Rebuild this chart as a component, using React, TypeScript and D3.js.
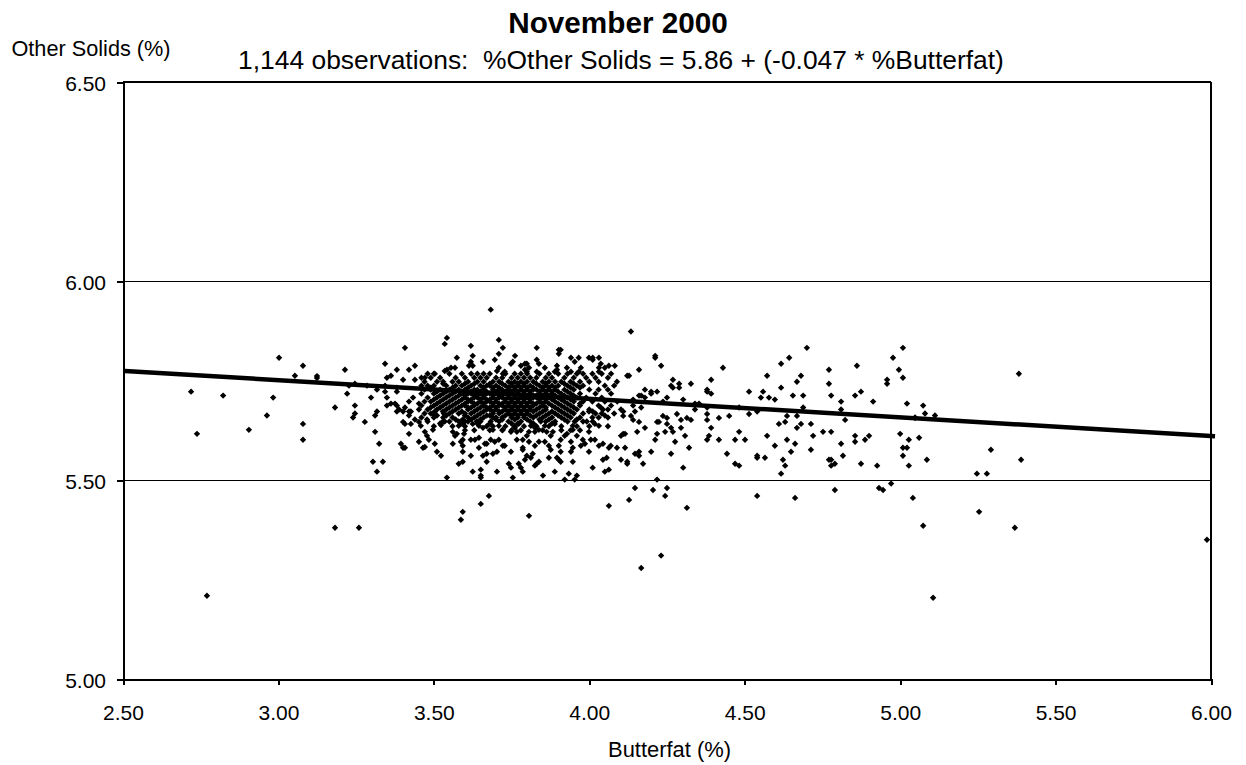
import React, { useEffect, useRef } from "react";
import * as d3 from "d3";

type Pt = [number, number];

const xTicks = [2.5, 3, 3.5, 4, 4.5, 5, 5.5, 6];
const yTicks = [5, 5.5, 6, 6.5];
const gridValues = [5.5, 6, 6.5];
const title = "November 2000";
const subtitle = "1,144 observations:  %Other Solids = 5.86 + (-0.047 * %Butterfat)";

// trend line as drawn (it runs slightly past the right axis)
const trendLine: Pt[] = [
  [2.506, 5.774],
  [6.013, 5.61],
];

const leftPoints: Pt[] = [
  [2.719, 5.722], [2.738, 5.616], [2.77, 5.209], [2.822, 5.712], [2.905, 5.626], [2.963, 5.662],
  [2.983, 5.707], [3.002, 5.807], [3.053, 5.762], [3.079, 5.787], [3.079, 5.641], [3.079, 5.601],
  [3.124, 5.761], [3.124, 5.756], [3.182, 5.682], [3.182, 5.38], [3.259, 5.38], [3.214, 5.777],
  [3.221, 5.717], [3.227, 5.737], [3.246, 5.742], [3.246, 5.687], [3.246, 5.667], [3.24, 5.657],
  [3.278, 5.646], [3.285, 5.737], [3.298, 5.707], [3.304, 5.546], [3.317, 5.521], [3.336, 5.546],
  [3.311, 5.621], [3.324, 5.591], [3.311, 5.662], [3.317, 5.672], [3.317, 5.727], [3.343, 5.792],
  [3.349, 5.757], [3.362, 5.762], [3.343, 5.737], [3.343, 5.722], [3.349, 5.707], [3.349, 5.687],
  [3.362, 5.692], [3.375, 5.692], [3.381, 5.687], [3.381, 5.672], [3.388, 5.677], [3.381, 5.777],
  [3.381, 5.722], [3.381, 5.732], [3.401, 5.752], [3.407, 5.832], [3.42, 5.777], [3.439, 5.787],
  [3.439, 5.752], [3.42, 5.697], [3.433, 5.707], [3.407, 5.682], [3.401, 5.672], [3.42, 5.672],
  [3.426, 5.672], [3.42, 5.662], [3.401, 5.646], [3.407, 5.641], [3.426, 5.641], [3.439, 5.652],
  [3.452, 5.646], [3.452, 5.692], [3.452, 5.677], [3.42, 5.616], [3.394, 5.591], [3.401, 5.581],
  [3.407, 5.581], [3.452, 5.596],
];

const upperEdge: Pt[] = [
  [3.683, 5.928], [3.542, 5.857], [3.535, 5.842], [3.619, 5.837], [3.709, 5.852], [3.722, 5.832],
  [3.709, 5.817], [3.696, 5.802], [3.625, 5.812], [3.574, 5.807], [3.658, 5.797], [3.619, 5.797],
  [3.613, 5.787], [3.625, 5.787], [3.831, 5.832], [3.902, 5.827], [3.908, 5.827], [3.902, 5.817],
  [3.761, 5.812], [3.754, 5.797], [3.748, 5.792], [3.831, 5.802], [3.838, 5.792], [3.941, 5.807],
  [3.966, 5.807], [3.953, 5.797], [3.999, 5.807], [4.011, 5.807], [4.011, 5.802], [4.031, 5.807],
  [4.037, 5.792], [4.031, 5.782], [4.031, 5.772], [4.063, 5.787], [4.082, 5.787], [4.05, 5.782],
  [3.857, 5.782], [3.928, 5.782], [3.941, 5.772], [3.896, 5.787], [3.889, 5.772], [3.896, 5.777],
  [3.973, 5.782], [3.966, 5.772], [3.793, 5.792], [3.78, 5.787], [3.799, 5.792], [3.806, 5.782],
  [3.793, 5.777], [3.799, 5.772], [3.568, 5.782], [3.555, 5.782], [3.542, 5.777], [3.535, 5.774],
  [3.503, 5.767], [3.709, 5.782], [3.703, 5.774], [3.831, 5.772], [3.728, 5.772], [3.722, 5.767],
  [4.089, 5.747], [3.471, 5.757],
];

const lowerEdge: Pt[] = [
  [3.542, 5.506], [3.625, 5.521], [3.651, 5.526], [3.651, 5.511], [3.651, 5.506], [3.703, 5.521],
  [3.754, 5.506], [3.851, 5.511], [3.889, 5.521], [3.921, 5.501], [3.934, 5.516], [3.953, 5.501],
  [3.96, 5.511], [4.011, 5.531], [4.05, 5.521], [4.063, 5.526], [3.677, 5.46], [3.651, 5.44],
  [3.593, 5.42], [3.587, 5.4], [3.806, 5.41], [4.063, 5.435], [3.58, 5.541], [3.593, 5.546],
  [3.523, 5.561], [3.51, 5.571], [3.619, 5.561], [3.67, 5.546], [3.658, 5.561], [3.67, 5.566],
  [3.645, 5.581], [3.593, 5.571], [3.561, 5.591], [3.503, 5.591], [3.471, 5.583], [3.465, 5.581],
  [3.741, 5.541], [3.748, 5.531], [3.773, 5.541], [3.78, 5.531], [3.786, 5.521], [3.825, 5.536],
  [3.831, 5.541], [3.838, 5.546], [3.793, 5.551], [3.799, 5.561], [3.812, 5.556], [3.818, 5.566],
  [3.748, 5.571], [3.786, 5.581], [3.786, 5.576], [3.87, 5.556], [3.896, 5.556], [3.902, 5.551],
  [3.908, 5.546], [3.947, 5.546], [4.044, 5.551], [4.056, 5.556], [3.908, 5.571], [3.941, 5.571],
  [3.947, 5.581], [3.876, 5.576], [3.825, 5.586], [3.838, 5.596], [3.767, 5.601], [3.786, 5.601],
  [3.806, 5.596], [3.857, 5.596], [3.87, 5.586], [3.908, 5.601], [3.902, 5.586], [3.941, 5.596],
  [3.96, 5.611], [3.979, 5.601], [3.973, 5.586], [3.986, 5.591], [3.999, 5.571], [3.999, 5.621],
  [4.005, 5.601], [4.018, 5.601], [4.031, 5.586], [4.044, 5.591], [4.063, 5.581], [4.069, 5.586],
  [4.089, 5.581], [3.69, 5.566], [3.703, 5.571], [3.722, 5.586], [3.728, 5.586], [3.696, 5.596],
  [3.683, 5.601], [3.67, 5.591], [3.664, 5.591], [3.709, 5.601], [3.619, 5.601], [3.632, 5.601],
  [3.645, 5.606], [3.593, 5.601], [3.587, 5.596], [3.593, 5.586], [3.561, 5.621], [3.568, 5.611],
  [3.574, 5.616], [3.597, 5.616], [3.471, 5.621], [3.478, 5.611], [3.484, 5.601], [3.497, 5.626],
  [3.478, 5.652], [3.523, 5.638], [3.529, 5.647], [3.535, 5.647], [3.497, 5.667], [3.503, 5.672],
  [3.532, 5.667], [3.529, 5.672], [3.58, 5.636], [3.587, 5.647], [3.593, 5.652], [3.6, 5.647],
  [3.58, 5.647], [3.625, 5.641], [3.645, 5.636], [3.658, 5.631], [3.638, 5.647], [3.683, 5.647],
  [3.69, 5.657], [3.709, 5.636], [3.722, 5.626], [3.69, 5.626], [3.748, 5.621], [3.761, 5.631],
  [3.773, 5.641], [3.767, 5.621], [3.806, 5.621], [3.799, 5.611], [3.812, 5.636], [3.825, 5.631],
  [3.825, 5.621], [3.838, 5.626], [3.863, 5.621], [3.883, 5.621], [3.876, 5.611], [3.857, 5.636],
  [3.844, 5.647], [3.889, 5.641], [3.921, 5.611], [3.928, 5.616], [3.947, 5.636], [3.953, 5.647],
  [3.947, 5.626], [3.992, 5.647], [4.018, 5.641], [4.031, 5.636], [4.011, 5.647], [4.05, 5.662],
  [4.044, 5.677], [4.011, 5.672], [4.037, 5.682], [3.999, 5.672], [3.458, 5.636],
];

// dense core, too overlapped to separate: estimated row by row
const coreY = [
  5.767, 5.757, 5.747, 5.737, 5.727, 5.717, 5.707, 5.697, 5.687, 5.677, 5.667, 5.657, 5.647, 5.635, 5.625,
  5.742, 5.732, 5.722, 5.712, 5.702, 5.692, 5.682, 5.672, 5.662, 5.652, 5.642,
];
const coreX = [
  [3.48, 3.5, 3.55, 3.59, 3.62, 3.64, 3.66, 3.68, 3.73, 3.76, 3.78, 3.8, 3.84, 3.87, 3.9, 3.93, 3.96, 3.98, 4.01, 4.04, 4.07],
  [3.46, 3.49, 3.52, 3.57, 3.6, 3.63, 3.65, 3.67, 3.7, 3.72, 3.75, 3.77, 3.79, 3.81, 3.83, 3.86, 3.88, 3.92, 3.95, 3.99, 4.02, 4.06],
  [3.47, 3.51, 3.53, 3.56, 3.58, 3.61, 3.64, 3.66, 3.69, 3.71, 3.74, 3.76, 3.78, 3.8, 3.82, 3.85, 3.87, 3.89, 3.91, 3.94, 3.97, 4.0, 4.03],
  [3.46, 3.48, 3.5, 3.54, 3.57, 3.59, 3.62, 3.65, 3.67, 3.68, 3.7, 3.73, 3.75, 3.77, 3.79, 3.81, 3.84, 3.86, 3.88, 3.9, 3.93, 3.96, 3.98, 4.05, 4.08],
  [3.47, 3.49, 3.52, 3.55, 3.58, 3.6, 3.63, 3.64, 3.66, 3.69, 3.71, 3.72, 3.74, 3.76, 3.78, 3.8, 3.82, 3.83, 3.85, 3.87, 3.89, 3.92, 3.95, 4.0, 4.03, 4.06],
  [3.46, 3.5, 3.53, 3.56, 3.59, 3.61, 3.62, 3.65, 3.67, 3.68, 3.7, 3.73, 3.75, 3.77, 3.79, 3.81, 3.84, 3.86, 3.88, 3.91, 3.94, 3.97, 4.02, 4.07],
  [3.48, 3.51, 3.54, 3.57, 3.6, 3.63, 3.64, 3.66, 3.69, 3.71, 3.72, 3.74, 3.76, 3.78, 3.8, 3.82, 3.83, 3.85, 3.87, 3.9, 3.93, 3.96, 3.99, 4.04],
  [3.47, 3.49, 3.52, 3.55, 3.58, 3.61, 3.62, 3.65, 3.67, 3.68, 3.7, 3.73, 3.75, 3.77, 3.79, 3.81, 3.84, 3.86, 3.89, 3.92, 3.95, 3.98, 4.01, 4.05, 4.09],
  [3.46, 3.5, 3.53, 3.56, 3.59, 3.6, 3.63, 3.66, 3.69, 3.71, 3.72, 3.74, 3.76, 3.78, 3.8, 3.82, 3.85, 3.88, 3.91, 3.94, 3.97, 4.03, 4.07],
  [3.48, 3.51, 3.54, 3.57, 3.61, 3.64, 3.67, 3.68, 3.7, 3.73, 3.75, 3.77, 3.79, 3.81, 3.83, 3.86, 3.9, 3.93, 3.96, 4.0, 4.06],
  [3.47, 3.49, 3.55, 3.58, 3.6, 3.62, 3.65, 3.69, 3.71, 3.74, 3.76, 3.78, 3.8, 3.84, 3.87, 3.89, 3.92, 3.95, 3.98, 4.02, 4.04, 4.08],
  [3.46, 3.5, 3.53, 3.56, 3.61, 3.63, 3.66, 3.7, 3.72, 3.75, 3.77, 3.79, 3.82, 3.85, 3.88, 3.91, 3.94, 3.97, 4.01, 4.03, 4.06],
  [3.48, 3.55, 3.61, 3.65, 3.71, 3.74, 3.78, 3.81, 3.86, 3.89, 3.93, 3.98],
  [3.5, 3.56, 3.6, 3.67, 3.69, 3.73, 3.76, 3.79, 3.83, 3.87, 3.91, 3.96, 4.0, 4.06],
  [3.6, 3.63, 3.68, 3.72, 3.75, 3.78, 3.85, 3.91, 3.94, 3.97],
  [3.53, 3.6, 3.63, 3.68, 3.72, 3.75, 3.77, 3.79, 3.83, 3.86, 3.92, 3.95],
  [3.49, 3.56, 3.61, 3.66, 3.69, 3.71, 3.74, 3.76, 3.78, 3.8, 3.82, 3.85, 3.87, 3.89, 3.94, 3.97],
  [3.51, 3.54, 3.57, 3.59, 3.62, 3.65, 3.67, 3.7, 3.73, 3.75, 3.77, 3.79, 3.81, 3.84, 3.86, 3.88, 3.9, 3.93],
  [3.52, 3.55, 3.58, 3.6, 3.63, 3.64, 3.66, 3.69, 3.71, 3.72, 3.74, 3.76, 3.78, 3.8, 3.82, 3.83, 3.85, 3.87, 3.89, 3.92, 3.95],
  [3.5, 3.53, 3.56, 3.59, 3.61, 3.62, 3.65, 3.67, 3.68, 3.7, 3.73, 3.75, 3.77, 3.79, 3.81, 3.84, 3.86, 3.88, 3.91, 3.94],
  [3.51, 3.54, 3.57, 3.6, 3.63, 3.64, 3.66, 3.69, 3.71, 3.72, 3.74, 3.76, 3.78, 3.8, 3.82, 3.83, 3.85, 3.87, 3.9, 3.93, 3.97],
  [3.49, 3.52, 3.55, 3.58, 3.61, 3.62, 3.65, 3.67, 3.68, 3.7, 3.73, 3.75, 3.77, 3.79, 3.81, 3.84, 3.86, 3.89, 3.92, 3.95],
  [3.56, 3.59, 3.63, 3.66, 3.69, 3.71, 3.72, 3.74, 3.76, 3.78, 3.8, 3.82, 3.85, 3.88, 3.91, 3.94],
  [3.51, 3.54, 3.6, 3.64, 3.67, 3.68, 3.73, 3.75, 3.77, 3.79, 3.81, 3.83, 3.86, 3.9, 3.93],
  [3.57, 3.62, 3.65, 3.7, 3.72, 3.76, 3.8, 3.84, 3.87, 3.92, 3.96],
  [3.52, 3.59, 3.64, 3.68, 3.75, 3.77, 3.82, 3.88],
];

const rightPoints: Pt[] = [
  [4.134, 5.873], [4.212, 5.812], [4.212, 5.807], [4.231, 5.787], [4.16, 5.777], [4.122, 5.762],
  [4.128, 5.762], [4.269, 5.752], [4.289, 5.742], [4.289, 5.732], [4.263, 5.737], [4.269, 5.732],
  [4.327, 5.742], [4.392, 5.752], [4.43, 5.782], [4.179, 5.727], [4.199, 5.722], [4.199, 5.717],
  [4.218, 5.722], [4.16, 5.712], [4.167, 5.712], [4.179, 5.707], [4.25, 5.707], [4.141, 5.702],
  [4.237, 5.697], [4.302, 5.702], [4.379, 5.727], [4.379, 5.722], [4.392, 5.717], [4.34, 5.692],
  [4.353, 5.692], [4.141, 5.687], [4.167, 5.682], [4.34, 5.677], [4.379, 5.682], [4.102, 5.677],
  [4.109, 5.672], [4.147, 5.672], [4.282, 5.666], [4.379, 5.666], [4.109, 5.661], [4.134, 5.661],
  [4.141, 5.651], [4.237, 5.661], [4.25, 5.656], [4.16, 5.646], [4.218, 5.646], [4.224, 5.646],
  [4.25, 5.641], [4.295, 5.651], [4.314, 5.656], [4.327, 5.651], [4.379, 5.651], [4.417, 5.656],
  [4.45, 5.661], [4.179, 5.631], [4.263, 5.631], [4.269, 5.621], [4.295, 5.631], [4.392, 5.631],
  [4.154, 5.621], [4.244, 5.621], [4.109, 5.616], [4.102, 5.611], [4.115, 5.616], [4.218, 5.616],
  [4.308, 5.611], [4.212, 5.601], [4.276, 5.596], [4.385, 5.611], [4.379, 5.601], [4.417, 5.601],
  [4.469, 5.601], [4.501, 5.601], [4.482, 5.621], [4.115, 5.581], [4.321, 5.581], [4.199, 5.571],
  [4.16, 5.571], [4.147, 5.566], [4.16, 5.561], [4.263, 5.566], [4.443, 5.566], [4.102, 5.551],
  [4.122, 5.546], [4.122, 5.541], [4.173, 5.541], [4.302, 5.531], [4.469, 5.541], [4.482, 5.536],
  [4.54, 5.561], [4.54, 5.556], [4.565, 5.556], [4.218, 5.501], [4.147, 5.48], [4.205, 5.475],
  [4.25, 5.48], [4.244, 5.46], [4.128, 5.45], [4.314, 5.43], [4.231, 5.31], [4.167, 5.279],
  [4.54, 5.46], [4.662, 5.455], [4.79, 5.475], [4.932, 5.48], [4.945, 5.475], [4.971, 5.491],
  [5.041, 5.455], [4.617, 5.516], [4.63, 5.536], [4.623, 5.551], [4.649, 5.571], [4.662, 5.591],
  [4.636, 5.601], [4.597, 5.586], [4.572, 5.611], [4.61, 5.641], [4.63, 5.646], [4.636, 5.661],
  [4.668, 5.661], [4.668, 5.631], [4.681, 5.641], [4.713, 5.641], [4.72, 5.611], [4.752, 5.621],
  [4.778, 5.621], [4.713, 5.576], [4.771, 5.551], [4.778, 5.551], [4.778, 5.536], [4.79, 5.541],
  [4.816, 5.561], [4.81, 5.591], [4.855, 5.611], [4.855, 5.596], [4.887, 5.601], [4.9, 5.611],
  [4.874, 5.541], [4.926, 5.536], [5.0, 5.616], [5.028, 5.601], [5.061, 5.606], [5.009, 5.581],
  [5.022, 5.581], [5.009, 5.561], [5.028, 5.536], [4.823, 5.651], [4.81, 5.677], [4.81, 5.697],
  [4.913, 5.697], [4.855, 5.712], [4.874, 5.722], [4.778, 5.712], [4.771, 5.742], [4.771, 5.777],
  [4.861, 5.787], [4.958, 5.752], [4.958, 5.742], [4.977, 5.807], [5.009, 5.832], [4.996, 5.777],
  [5.009, 5.757], [5.022, 5.692], [5.048, 5.656], [4.7, 5.832], [4.643, 5.807], [4.617, 5.792],
  [4.572, 5.762], [4.681, 5.762], [4.668, 5.747], [4.617, 5.732], [4.514, 5.722], [4.559, 5.722],
  [4.552, 5.707], [4.578, 5.707], [4.597, 5.702], [4.655, 5.712], [4.688, 5.712], [4.688, 5.682],
  [4.482, 5.682], [4.514, 5.666], [4.54, 5.672],
];

const farRightPoints: Pt[] = [
  [5.074, 5.687], [5.08, 5.667], [5.112, 5.662], [5.048, 5.657], [5.382, 5.767], [5.086, 5.551],
  [5.292, 5.576], [5.389, 5.551], [5.247, 5.516], [5.279, 5.516], [5.074, 5.385], [5.254, 5.42],
  [5.369, 5.38], [5.987, 5.35], [5.106, 5.204],
];

const width = 1246;
const height = 765;
const plot = { left: 123, right: 1211, top: 82, bottom: 679 };
const fontFamily = "'Liberation Sans', Arial, sans-serif";

export default function App() {
  const svgRef = useRef<SVGSVGElement>(null);

  useEffect(() => {
    const svg = d3.select(svgRef.current);
    svg.selectAll("*").remove();

    const x = d3.scaleLinear().domain([2.5, 6]).range([plot.left, plot.right]);
    const y = d3.scaleLinear().domain([5, 6.5]).range([plot.bottom, plot.top]);

    // gridlines
    svg
      .append("g")
      .selectAll("line")
      .data(gridValues)
      .enter()
      .append("line")
      .attr("x1", plot.left)
      .attr("x2", plot.right)
      .attr("y1", (d) => y(d) + (d === 6.5 ? 0 : 0.5))
      .attr("y2", (d) => y(d) + (d === 6.5 ? 0 : 0.5))
      .attr("stroke", "#000")
      .attr("stroke-width", (d) => (d === 6.5 ? 2 : 1))
      .attr("shape-rendering", "crispEdges");

    // right border
    svg
      .append("line")
      .attr("x1", plot.right)
      .attr("x2", plot.right)
      .attr("y1", plot.top)
      .attr("y2", plot.bottom)
      .attr("stroke", "#000")
      .attr("stroke-width", 2)
      .attr("shape-rendering", "crispEdges");

    const corePoints: Pt[] = coreY.flatMap((v, i) => coreX[i].map((b): Pt => [b, v]));
    const allPoints = [...leftPoints, ...upperEdge, ...lowerEdge, ...corePoints, ...rightPoints, ...farRightPoints];
    const diamond = d3.symbol().type(d3.symbolDiamond2).size(26)();

    svg
      .append("g")
      .selectAll("path")
      .data(allPoints)
      .enter()
      .append("path")
      .attr("d", diamond)
      .attr("transform", (d) => `translate(${x(d[0])},${y(d[1])})`)
      .attr("fill", "#000");

    const line = d3
      .line<Pt>()
      .x((d) => x(d[0]))
      .y((d) => y(d[1]));
    svg
      .append("path")
      .attr("d", line(trendLine))
      .attr("fill", "none")
      .attr("stroke", "#000")
      .attr("stroke-width", 4.5);

    const xAxis = svg
      .append("g")
      .attr("transform", `translate(0,${plot.bottom})`)
      .call(
        d3
          .axisBottom(x)
          .tickValues(xTicks)
          .tickFormat((d) => d3.format(".2f")(d as number))
          .tickSize(6)
          .tickSizeOuter(0)
          .tickPadding(20)
      );
    const yAxis = svg
      .append("g")
      .attr("transform", `translate(${plot.left},0)`)
      .call(
        d3
          .axisLeft(y)
          .tickValues(yTicks)
          .tickFormat((d) => d3.format(".2f")(d as number))
          .tickSize(6)
          .tickSizeOuter(0)
          .tickPadding(11)
      );
    [xAxis, yAxis].forEach((axis) => {
      axis
        .selectAll("path, line")
        .attr("stroke", "#000")
        .attr("stroke-width", 2)
        .attr("shape-rendering", "crispEdges");
      axis.selectAll("text").attr("fill", "#000").style("font-family", fontFamily).style("font-size", "21px");
    });
    yAxis.selectAll("text").attr("dy", "0.42em");

    const addText = (px: number, py: number, text: string, size: number, bold = false) =>
      svg
        .append("text")
        .attr("x", px)
        .attr("y", py)
        .attr("text-anchor", "middle")
        .attr("fill", "#000")
        .style("font-family", fontFamily)
        .style("font-size", `${size}px`)
        .style("font-weight", bold ? "bold" : "normal")
        .style("white-space", "pre")
        .text(text);

    addText(618, 33, title, 29.7, true);
    addText(621, 69, subtitle, 26.4);
    addText(91, 56, "Other Solids (%)", 21.7);
    addText(669.5, 757, "Butterfat (%)", 21.9);
  }, []);

  return (
    <svg
      ref={svgRef}
      width={width}
      height={height}
      style={{ position: "absolute", left: 0, top: 0, background: "#fff" }}
    />
  );
}
